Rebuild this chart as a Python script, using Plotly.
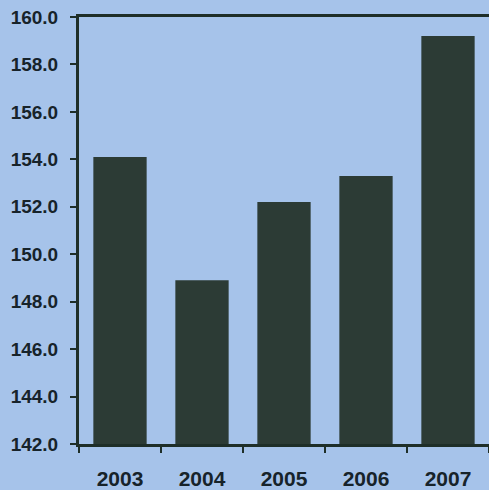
import plotly.graph_objects as go

years = ["2003", "2004", "2005", "2006", "2007"]
values = [154.1, 148.9, 152.2, 153.3, 159.2]
y_ticks = [142, 144, 146, 148, 150, 152, 154, 156, 158, 160]

bg = "#a6c3ea"
bar_color = "#2c3b35"
line_color = "#1e2e28"
text_color = "#17232a"

fig = go.Figure(go.Bar(x=years, y=values, marker=dict(color=bar_color, line=dict(width=0)),
                       width=0.65))

fig.update_layout(
    width=489, height=490,
    margin=dict(l=79, r=0, t=17, b=46),
    paper_bgcolor=bg, plot_bgcolor=bg,
    showlegend=False,
    font=dict(family="Liberation Sans, Arial, sans-serif", color=text_color),
)
fig.update_xaxes(
    showline=True, linewidth=3, linecolor=line_color, mirror=True,
    ticks="outside", tickson="boundaries", ticklen=6, tickwidth=2, tickcolor=line_color,
    tickfont=dict(size=21, family="Liberation Sans, Arial, sans-serif", weight="bold"),
    ticklabelstandoff=14,
    showgrid=False,
)
fig.update_yaxes(
    range=[142, 160], tickvals=y_ticks, ticktext=[f"{v:.1f}" for v in y_ticks],
    showline=True, linewidth=3, linecolor=line_color,
    ticks="outside", ticklen=6, tickwidth=2, tickcolor=line_color,
    tickfont=dict(size=19, family="Liberation Sans, Arial, sans-serif", weight="bold"),
    ticklabelstandoff=8,
    showgrid=False, zeroline=False,
)

fig.write_html("out.html")
